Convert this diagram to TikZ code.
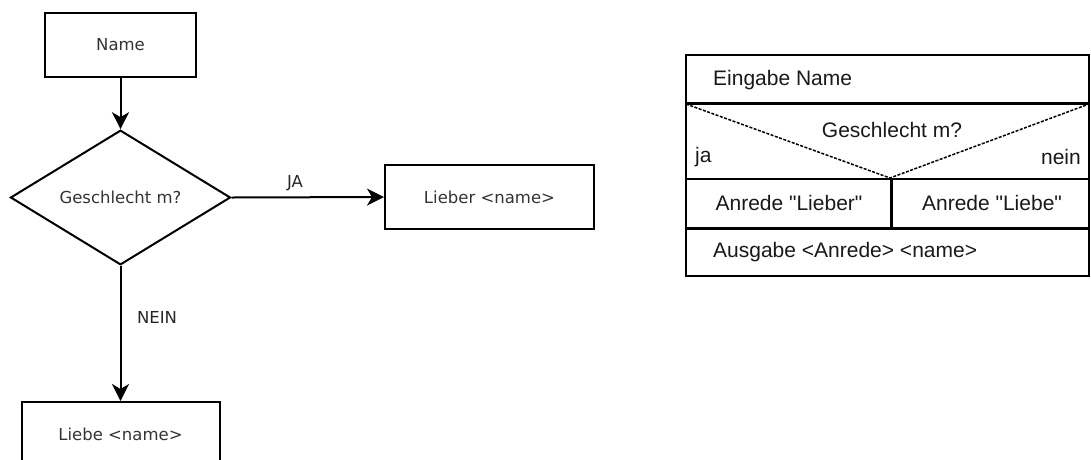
\documentclass[tikz,border=0pt]{standalone}
\usepackage{fontspec}
\setmainfont{DejaVu Sans}
\newfontfamily\nsfont{Liberation Sans}
\usetikzlibrary{shapes.geometric,arrows.meta}

\tikzset{
  flowbox/.style={draw=black, line width=2pt, minimum width=151pt, minimum height=64pt,
    inner sep=0pt, text=black!80, font=\fontsize{16.5}{19}\selectfont},
  decision/.style={draw=black, line width=2pt, diamond, minimum width=220pt, minimum height=128pt,
    inner sep=0pt, text=black!80, font=\fontsize{16.5}{19}\selectfont},
  flowarrow/.style={line width=2pt, -{Stealth[length=17pt,width=17pt,inset=5pt]}},
  flowlabel/.style={text=black!85, font=\fontsize{16.5}{19}\selectfont, inner sep=0pt},
  nsframe/.style={draw=black, line width=1.5pt},
  nsthick/.style={draw=black, line width=3pt},
  nsdash/.style={draw=black, line width=1.5pt, dash pattern=on 3pt off 1.5pt},
  nstext/.style={text=black!90, font=\nsfont\fontsize{21}{24}\selectfont, inner sep=0pt},
}

\begin{document}
\begin{tikzpicture}[x=1pt, y=-1pt]
\useasboundingbox (0,0) rectangle (1091,459);

% --- flowchart ---
\node[flowbox] (name) at (120.5,45) {Name};
\node[decision] (cond) at (120.5,197.5) {Geschlecht m?};
\node[flowbox, minimum width=209pt] (lieber) at (489.5,197) {Lieber <name>};
\node[flowbox, minimum width=198pt] (liebe) at (120.5,434) {Liebe <name>};

\draw[flowarrow] (name.south) -- (cond.north);
\draw[flowarrow] (cond.east) -- (lieber.west);
\draw[flowarrow] (cond.south) -- (liebe.north);

\node[flowlabel] (ja) at (295,183) {JA};
\node[flowlabel] (nein) at (157,317) {NEIN};

% --- structogram ---
\coordinate (tl) at (686,55);
\coordinate (br) at (1089,276);
\draw[nsframe] (tl) rectangle (br);
\draw[nsthick] (686,103) -- (1089,103);
\draw[nsdash] (686,104) -- (890,178) -- (1089,104);
\draw[nsframe] (686,179) -- (1089,179);
\draw[nsthick] (891,179) -- (891,228);
\draw[nsthick] (686,228) -- (1089,228);

\node[nstext, anchor=west] (in) at (713,80) {Eingabe Name};
\node[nstext] (q) at (892,130) {Geschlecht m?};
\node[nstext, anchor=west] (yes) at (695,157) {ja};
\node[nstext, anchor=east] (no) at (1081,157) {nein};
\node[nstext] (a1) at (789,203) {Anrede "Lieber"};
\node[nstext] (a2) at (992,203) {Anrede "Liebe"};
\node[nstext, anchor=west] (out) at (713,252) {Ausgabe <Anrede> <name>};
\end{tikzpicture}
\end{document}
